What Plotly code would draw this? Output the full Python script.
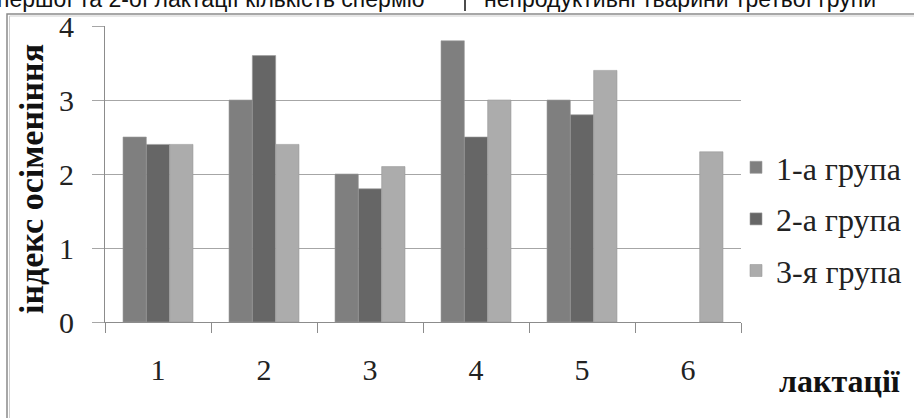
import plotly.graph_objects as go

# Lactation number on the x axis, insemination index per group
lactations = ["1", "2", "3", "4", "5", "6"]
group1 = [2.5, 3.0, 2.0, 3.8, 3.0, None]
group2 = [2.4, 3.6, 1.8, 2.5, 2.8, None]
group3 = [2.4, 2.4, 2.1, 3.0, 3.4, 2.3]

series_names = ["1-а група", "2-а група", "3-я група"]
series_values = [group1, group2, group3]
series_colors = ["#7f7f7f", "#666666", "#acacac"]

y_ticks = [0, 1, 2, 3, 4]

W, H = 914, 418
L, R, T, B = 105, 173, 26, 96
PW, PH = W - L - R, H - T - B


def px_x(x):
    return (x - L) / PW


def px_y(y):
    return (H - B - y) / PH


SERIF = "Liberation Serif, Times New Roman, serif"
SANS = "Liberation Sans, Arial, sans-serif"

fig = go.Figure()
for i, (name, vals, col) in enumerate(zip(series_names, series_values, series_colors)):
    fig.add_trace(go.Bar(
        x=lactations, y=vals, name=name,
        marker=dict(color=col, line=dict(color="#9a9a9a", width=0.6)),
        legendgroup=f"g{i}",
    ))

fig.update_layout(
    width=W, height=H,
    margin=dict(l=L, r=R, t=T, b=B, autoexpand=False),
    paper_bgcolor="white", plot_bgcolor="white",
    barmode="group", bargap=0.34, bargroupgap=0,
    font=dict(family=SERIF, size=30, color="#222222"),
    showlegend=True,
    legend=dict(
        x=px_x(736), y=px_y(140), xanchor="left", yanchor="top",
        font=dict(family=SERIF, size=32, color="#222222"),
        bgcolor="rgba(0,0,0,0)", tracegroupgap=7,
        itemclick=False,
    ),
    xaxis=dict(
        type="category", categoryorder="array", categoryarray=lactations,
        showgrid=False, showline=True, linecolor="#8c8c8c", linewidth=1,
        ticks="outside", tickson="boundaries", ticklen=10, tickcolor="#8c8c8c",
        ticklabelstandoff=21, zeroline=False,
        tickfont=dict(family=SERIF, size=30, color="#222222"),
    ),
    yaxis=dict(
        range=[0, 4], tickvals=y_ticks, showgrid=True, gridcolor="#a6a6a6", gridwidth=1,
        showline=True, linecolor="#8c8c8c", linewidth=1,
        ticks="outside", ticklen=12, tickcolor="#a6a6a6",
        ticklabelstandoff=12, zeroline=False,
        tickfont=dict(family=SERIF, size=30, color="#222222"),
    ),
)

# Axis captions
fig.add_annotation(
    text="<b>індекс осіменіння</b>", xref="paper", yref="paper",
    x=px_x(31), y=px_y(179), xanchor="center", yanchor="middle",
    textangle=-90, showarrow=False,
    font=dict(family=SERIF, size=34, color="#111111"),
)
fig.add_annotation(
    text="<b>лактації</b>", xref="paper", yref="paper",
    x=px_x(840), y=px_y(381), xanchor="center", yanchor="middle", showarrow=False,
    font=dict(family=SERIF, size=32, color="#111111"),
)

# Running text line above the chart frame
fig.add_annotation(
    text="першої та 2-ої лактації кількість сперміо", xref="paper", yref="paper",
    x=px_x(427), y=px_y(14), xanchor="right", yanchor="bottom", showarrow=False,
    font=dict(family=SANS, size=23, color="#111111"),
)
fig.add_annotation(
    text="непродуктивні тварини третьої групи", xref="paper", yref="paper",
    x=px_x(482), y=px_y(14), xanchor="left", yanchor="bottom", showarrow=False,
    font=dict(family=SANS, size=23, color="#111111"),
)
fig.add_shape(
    type="line", xref="paper", yref="paper",
    x0=px_x(465), x1=px_x(465), y0=px_y(0), y1=px_y(11),
    line=dict(color="#111111", width=1.5),
)

# Chart frame
fig.add_shape(
    type="rect", xref="paper", yref="paper",
    x0=px_x(7), x1=px_x(930), y0=px_y(14), y1=px_y(440),
    line=dict(color="#8a8a8a", width=1.5),
)
fig.add_shape(
    type="rect", xref="paper", yref="paper",
    x0=px_x(9.5), x1=px_x(930), y0=px_y(16), y1=px_y(440),
    line=dict(color="#cfcfcf", width=1),
)

fig.write_html("out.html")
